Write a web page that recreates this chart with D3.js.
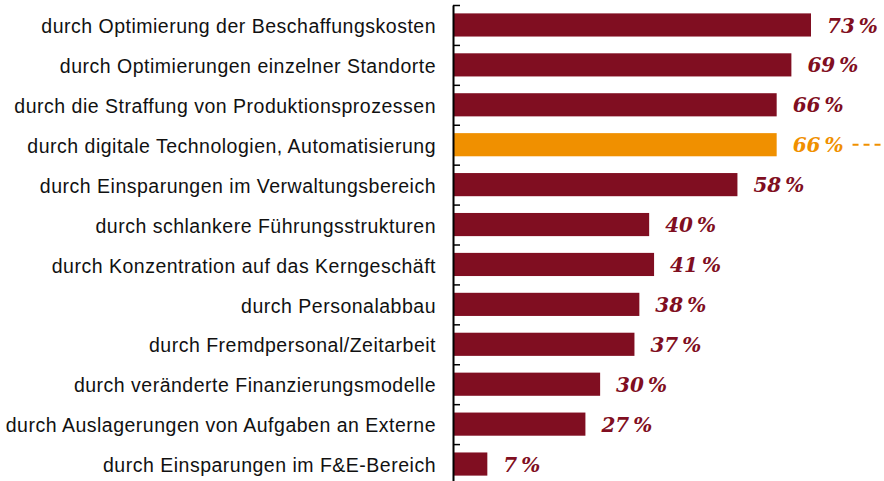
<!DOCTYPE html>
<html><head><meta charset="utf-8">
<script src="https://cdn.jsdelivr.net/npm/d3@7"></script>
<style>body{margin:0;background:#fff}svg{display:block}</style>
</head><body>
<svg id="c" width="884" height="481"></svg>
<script>
const categories = [
  "durch Optimierung der Beschaffungskosten",
  "durch Optimierungen einzelner Standorte",
  "durch die Straffung von Produktionsprozessen",
  "durch digitale Technologien, Automatisierung",
  "durch Einsparungen im Verwaltungsbereich",
  "durch schlankere Führungsstrukturen",
  "durch Konzentration auf das Kerngeschäft",
  "durch Personalabbau",
  "durch Fremdpersonal/Zeitarbeit",
  "durch veränderte Finanzierungsmodelle",
  "durch Auslagerungen von Aufgaben an Externe",
  "durch Einsparungen im F&E-Bereich"
];
const values = [73, 69, 66, 66, 58, 40, 41, 38, 37, 30, 27, 7];
const highlight = [false, false, false, true, false, false, false, false, false, false, false, false];

const DARK = "#800e21", ORANGE = "#f09000";
const svg = d3.select("#c");
const x0 = 453;
const x = d3.scaleLinear().domain([0, 73]).range([x0, 811]);
const y = d3.scaleBand().domain(d3.range(categories.length)).range([5, 484]).paddingInner(0.42).paddingOuter(0.21);
const yb = d3.scaleLinear().domain([0, categories.length]).range([5, 484]);

// bars
svg.selectAll("rect.bar").data(values).join("rect")
  .attr("x", x(0)).attr("y", (d, i) => y(i))
  .attr("width", d => x(d) - x(0)).attr("height", y.bandwidth())
  .attr("fill", (d, i) => highlight[i] ? ORANGE : DARK);

// axis
const ax = svg.append("g").attr("transform", `translate(${x0},0)`)
  .call(d3.axisRight(yb).tickValues(d3.range(categories.length + 1)).tickFormat("").tickSize(7).tickSizeOuter(0));
ax.select(".domain").attr("stroke", "#000").attr("stroke-width", 2);
ax.selectAll(".tick line").attr("stroke", "#000").attr("stroke-width", 1.5);

// category labels
svg.selectAll("text.cat").data(categories).join("text")
  .attr("x", 436).attr("y", (d, i) => y(i) + y.bandwidth() / 2)
  .attr("dy", "0.42em").attr("text-anchor", "end")
  .attr("font-family", "Liberation Sans, Arial, sans-serif").attr("font-size", 19.5)
  .attr("letter-spacing", 0.5)
  .attr("fill", "#111").text(d => d);

// value labels
const vl = svg.selectAll("text.val").data(values).join("text")
  .attr("x", d => x(d) + 16).attr("y", (d, i) => y(i) + y.bandwidth() / 2)
  .attr("dy", "0.38em")
  .attr("font-family", "DejaVu Serif, serif").attr("font-style", "italic").attr("font-weight", "bold")
  .attr("font-size", 20)
  .attr("fill", (d, i) => highlight[i] ? ORANGE : DARK)
  .text(d => d + "\u2009%");

// dashed leader for highlighted
values.forEach((v, i) => {
  if (!highlight[i]) return;
  const node = vl.nodes()[i];
  const end = x(v) + 16 + node.getComputedTextLength() + 9;
  svg.append("line").attr("x1", end).attr("x2", 884)
    .attr("y1", y(i) + y.bandwidth() / 2).attr("y2", y(i) + y.bandwidth() / 2)
    .attr("stroke", ORANGE).attr("stroke-width", 2).attr("stroke-dasharray", "6,5");
});
</script>
</body></html>
